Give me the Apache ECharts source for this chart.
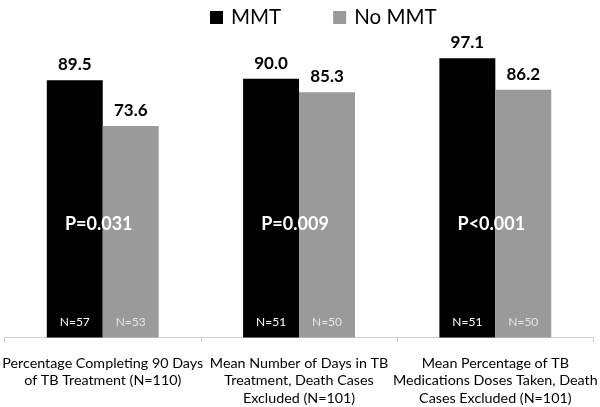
<!DOCTYPE html>
<html>
<head>
<meta charset="utf-8">
<script src="https://cdn.jsdelivr.net/npm/echarts@6/dist/echarts.min.js"></script>
<style>html,body{margin:0;padding:0;background:#fff}#chart{width:600px;height:407px}</style>
</head>
<body>
<div id="chart"></div>
<script>
const categories = [
  "Percentage Completing 90 Days\nof TB Treatment (N=110)",
  "Mean Number of Days in TB\nTreatment, Death Cases\nExcluded (N=101)",
  "Mean Percentage of TB\nMedications Doses Taken, Death\nCases Excluded (N=101)"
];
const seriesNames = ["MMT", "No MMT"];
const mmtValues = [89.5, 90.0, 97.1];
const noMmtValues = [73.6, 85.3, 86.2];
const pValueLabels = ["P=0.031", "P=0.009", "P<0.001"];
const pLabelLevel = [39.5, 39.5, 39.5];
const nMmt = ["N=57", "N=51", "N=51"];
const nNoMmt = ["N=53", "N=50", "N=50"];

const FONT = "Lato";
const CAT_GAP = 0.43;

const chart = echarts.init(document.getElementById('chart'), null, {renderer: 'canvas'});
chart.setOption({
  animation: false,
  textStyle: {fontFamily: FONT},
  legend: {
    data: seriesNames,
    top: 2,
    left: 205,
    itemWidth: 13,
    itemHeight: 13,
    itemGap: 52,
    icon: 'rect',
    textStyle: {fontFamily: FONT, fontSize: 20.5, color: '#000', padding: [0, 0, 0, 3]}
  },
  grid: {left: 3, right: 4, top: 50, bottom: 65, containLabel: false},
  xAxis: {
    type: 'category',
    data: categories,
    axisLine: {lineStyle: {color: '#d0d0d0', width: 1}},
    axisTick: {show: true, length: 5, lineStyle: {color: '#d0d0d0'}},
    axisLabel: {
      interval: 0, margin: 17, fontSize: 14.3, lineHeight: 17.5,
      color: '#000', fontFamily: FONT, align: 'center'
    }
  },
  yAxis: {type: 'value', min: 0, max: 100, show: false, splitLine: {show: false}},
  series: [
    {
      name: seriesNames[0], type: 'bar', data: mmtValues,
      barGap: '0%', barCategoryGap: (CAT_GAP * 100) + '%',
      itemStyle: {color: '#000000'},
      label: {show: true, position: 'top', distance: 7, fontFamily: FONT, fontWeight: 'bold', fontSize: 17, color: '#000',
        formatter: p => p.value.toFixed(1)}
    },
    {
      name: seriesNames[1], type: 'bar', data: noMmtValues,
      barGap: '0%', barCategoryGap: (CAT_GAP * 100) + '%',
      itemStyle: {color: '#9a9a9a'},
      label: {show: true, position: 'top', distance: 7, fontFamily: FONT, fontWeight: 'bold', fontSize: 17, color: '#000',
        formatter: p => p.value.toFixed(1)}
    },
    {
      type: 'custom', name: 'labels', silent: true, z: 10,
      data: categories.map((c, i) => [i, pLabelLevel[i]]),
      renderItem: function (params, api) {
        const i = api.value(0);
        const pc = api.coord([i, api.value(1)]);
        const base = api.coord([i, 0]);
        const band = api.size([1, 0])[0];
        const bw = band * (1 - CAT_GAP) / 2;
        return {
          type: 'group',
          children: [
            {type: 'text', style: {text: pValueLabels[i], x: pc[0] - 4, y: pc[1], align: 'center', verticalAlign: 'middle',
              fill: '#fff', font: 'bold 18px ' + FONT}},
            {type: 'text', style: {text: nMmt[i], x: base[0] - bw / 2, y: base[1] - 15, align: 'center', verticalAlign: 'middle',
              fill: '#fff', font: '12px ' + FONT}},
            {type: 'text', style: {text: nNoMmt[i], x: base[0] + bw / 2, y: base[1] - 15, align: 'center', verticalAlign: 'middle',
              fill: '#e6e6e6', font: '12px ' + FONT}}
          ]
        };
      }
    }
  ]
});
</script>
</body>
</html>
